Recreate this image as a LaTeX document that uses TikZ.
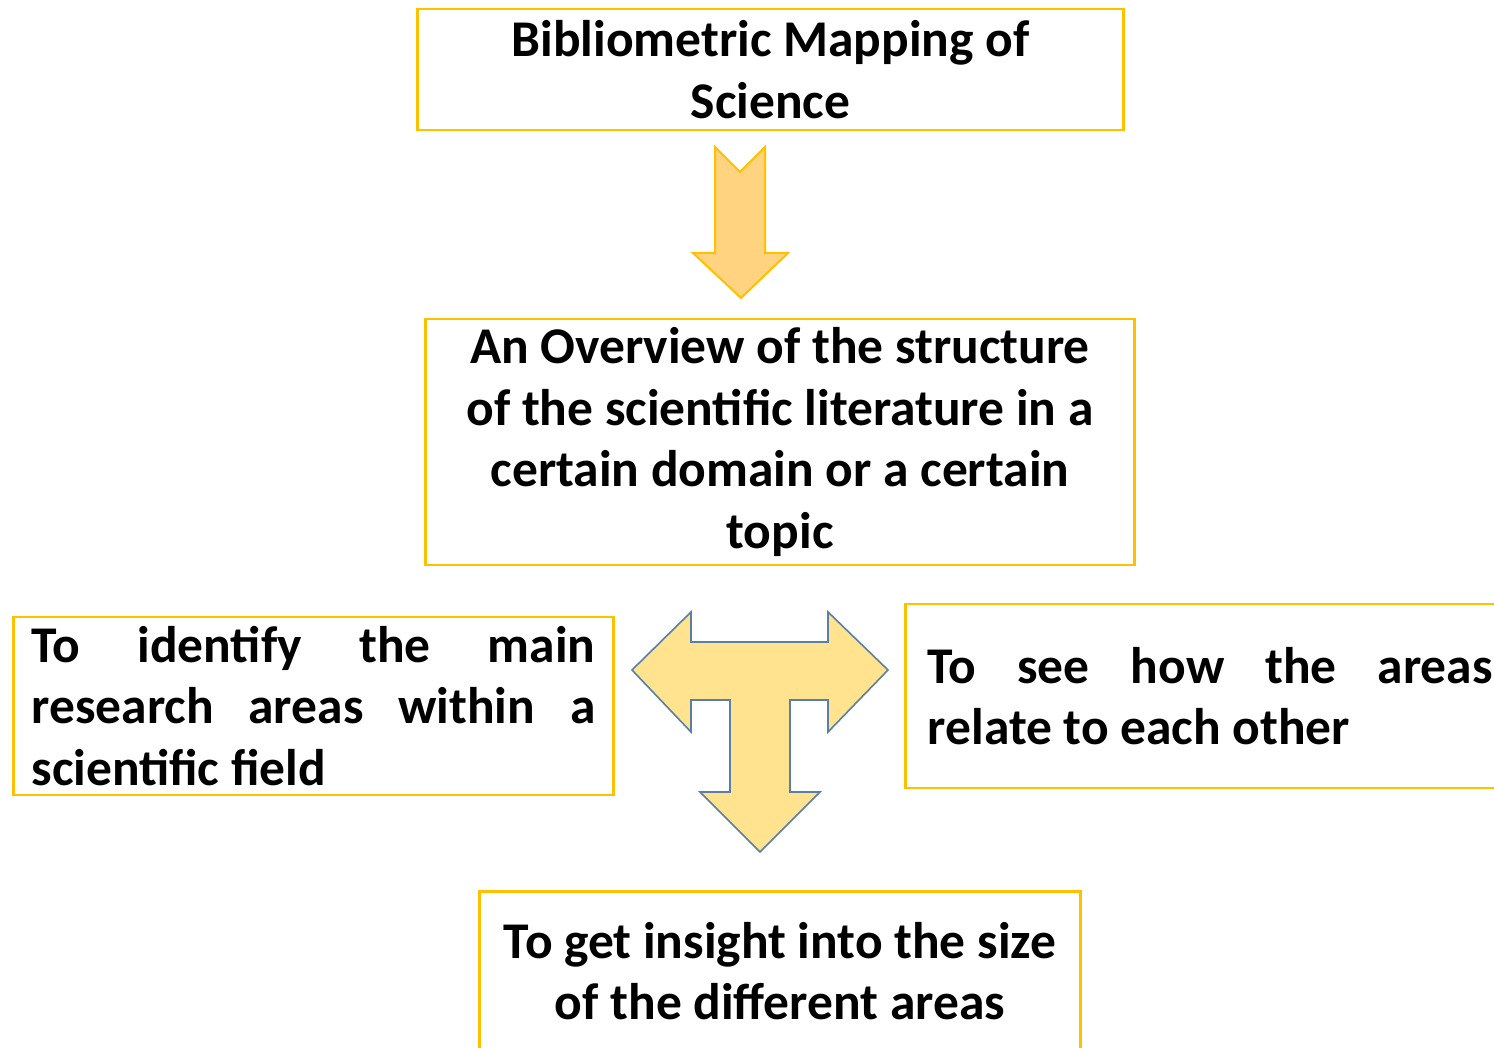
\documentclass[tikz,border=0pt]{standalone}
\usepackage{fontspec}
\setmainfont{Carlito}
\definecolor{gold}{HTML}{FFC000}
\definecolor{lightorange}{HTML}{FFD37F}
\definecolor{lightyellow}{HTML}{FFE38F}
\definecolor{steel}{HTML}{5B7FA3}
\begin{document}
\begin{tikzpicture}[x=1pt,y=-1pt,
  box/.style={draw=gold, line width=2.5pt, fill=white, rectangle, inner xsep=18pt, inner ysep=0pt,
    font=\fontsize{51.5}{61.5}\selectfont\bfseries},
  cbox/.style={box, inner xsep=4pt, align=center},
  blockarrow/.style={draw=gold, fill=lightorange, line width=2pt, line join=miter},
  tarrow/.style={draw=steel, fill=lightyellow, line width=1.6pt, line join=miter}]
\useasboundingbox (0,0) rectangle (1494,1048);
\fill[white] (0,0) rectangle (1494,1048);

\node[cbox, minimum width=706pt, minimum height=121pt] (top) at (770.5,69.5)
  {Bibliometric Mapping of\\Science};

\node[cbox, minimum width=709pt, minimum height=246pt] (overview) at (780,442)
  {An Overview of the structure\\of the scientific literature in a\\certain domain or a certain\\topic};

\node[box, minimum width=600pt, minimum height=178pt, text width=564pt, align=justify] (left) at (313.5,706)
  {To identify the main\linebreak research areas within a\linebreak scientific field};

\node[box, minimum width=610pt, minimum height=184pt, text width=565pt, align=justify, anchor=west] (right) at (904,696)
  {To see how the areas\linebreak relate to each other};

\node[cbox, minimum width=601pt, minimum height=160pt, anchor=north] (bottom) at (780,890)
  {To get insight into the size\\of the different areas};

% down arrow between top and overview
\coordinate (a1top) at (741,147);
\coordinate (a1tip) at (741,298);
\draw[blockarrow] (715,147) -- (740,172) -- (765,147) -- (765,253) -- (788,253) -- (a1tip)
  -- (693,253) -- (715,253) -- cycle;

% T-shaped three-way arrow
\coordinate (tcentre) at (760,670);
\draw[tarrow] (632,670) -- (691,612) -- (691,642) -- (828,642) -- (828,612) -- (888,670)
  -- (828,732) -- (828,700) -- (790,700) -- (790,792) -- (820,792) -- (760,852)
  -- (700,792) -- (730,792) -- (730,700) -- (691,700) -- (691,732) -- cycle;
\end{tikzpicture}
\end{document}
